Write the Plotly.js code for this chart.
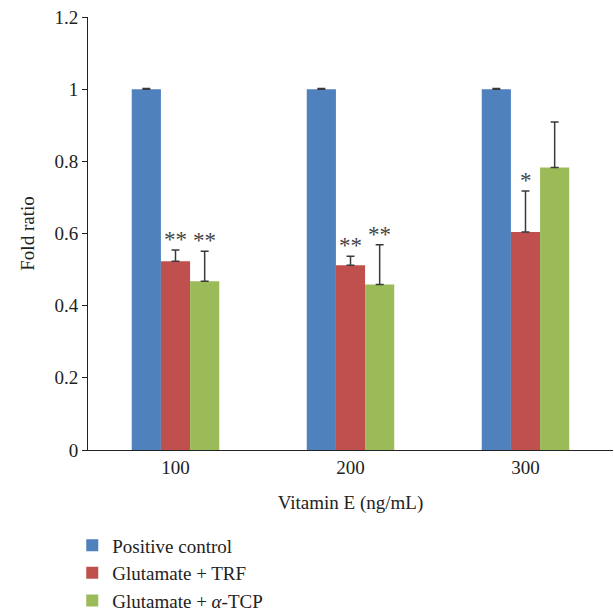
<!DOCTYPE html>
<html><head><meta charset="utf-8">
<script src="https://cdn.plot.ly/plotly-3.0.1.min.js"></script>
<style>html,body{margin:0;padding:0;background:#fff}#chart{width:614px;height:612px}</style>
</head><body><div id="chart"></div>
<script>
const categories = ["100", "200", "300"];
const seriesNames = ["Positive control", "Glutamate + TRF", "Glutamate + <i>α</i>-TCP"];
const positiveControl = [1.0, 1.0, 1.0];
const positiveControlErr = [0.002, 0.002, 0.002];
const glutamateTRF = [0.523, 0.512, 0.604];
const glutamateTRFErr = [0.031, 0.025, 0.114];
const glutamateTCP = [0.468, 0.459, 0.783];
const glutamateTCPErr = [0.083, 0.110, 0.126];
const sigTRF = ["**", "**", "*"];
const sigTCP = ["**", "**", ""];
const colors = ["#4F81BD", "#C0504D", "#9BBB59"];

const values = [positiveControl, glutamateTRF, glutamateTCP];
const errs = [positiveControlErr, glutamateTRFErr, glutamateTCPErr];
const font = "Liberation Serif, DejaVu Serif, serif";

const traces = values.map((v, k) => ({
  type: "bar", name: seriesNames[k], x: categories, y: v,
  marker: {color: colors[k]},
  error_y: {type: "data", array: errs[k], symmetric: false, arrayminus: v.map(() => 0),
    color: "#3a3a3a", thickness: 1.5, width: 4}
}));

const annotations = [];
[[sigTRF, 1], [sigTCP, 2]].forEach(([sig, k]) => {
  sig.forEach((s, i) => {
    if (!s) return;
    annotations.push({
      x: i + (k - 1) / 6, xref: "x", y: values[k][i] + errs[k][i], yref: "y",
      text: s, showarrow: false, yanchor: "bottom", yshift: -4,
      font: {family: font, size: 23, color: "#444"}
    });
  });
});

const layout = {
  width: 614, height: 612,
  margin: {l: 88, r: 1, t: 17, b: 162},
  paper_bgcolor: "#fff", plot_bgcolor: "#fff",
  barmode: "group", bargap: 0.5, bargroupgap: 0,
  font: {family: font, size: 19, color: "#222"},
  xaxis: {
    type: "category", range: [-0.5, 2.5], showline: true, linecolor: "#222", linewidth: 1,
    ticks: "", showgrid: false, zeroline: false, automargin: false,
    title: {text: "Vitamin E (ng/mL)", font: {family: font, size: 19}, standoff: 18},
    tickfont: {family: font, size: 19}
  },
  yaxis: {
    range: [0, 1.2], dtick: 0.2, showline: true, linecolor: "#222", linewidth: 1,
    ticks: "outside", ticklen: 5, tickcolor: "#222", showgrid: false, zeroline: false,
    automargin: false,
    title: {text: "Fold ratio", font: {family: font, size: 19}, standoff: 14},
    tickfont: {family: font, size: 19}
  },
  showlegend: true,
  legend: {orientation: "v", x: -0.03, xanchor: "left", yref: "container", y: 0.14, yanchor: "top",
    font: {family: font, size: 19}, tracegroupgap: 0, itemwidth: 30},
  annotations: annotations
};
Plotly.newPlot("chart", traces, layout, {displayModeBar: false, staticPlot: true});
</script></body></html>
